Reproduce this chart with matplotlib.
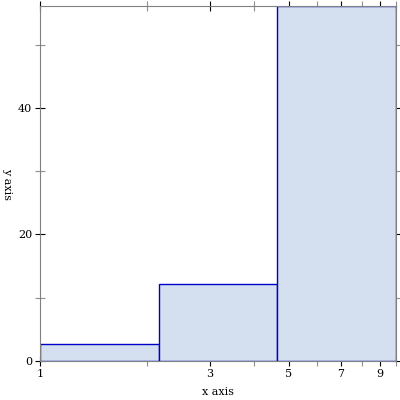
import numpy as np
import matplotlib
matplotlib.use('Agg')
import matplotlib.pyplot as plt
from matplotlib.ticker import FixedLocator, FixedFormatter, NullFormatter

# histogram data (log-spaced bins)
bin_edges = [1.0, 10 ** (1 / 3), 10 ** (2 / 3), 10.0]
counts = [2.63, 12.1, 56.1]
x_major = [1, 3, 5, 7, 9]
x_minor = [2, 4, 6, 8, 10]
y_major = [0, 20, 40]
y_minor = [10, 30, 50]

plt.rc('font', family='DejaVu Serif', size=8)
fig = plt.figure(figsize=(4, 4), dpi=100)
ax = fig.add_axes([0.1, 0.0975, 0.89, 0.8875])

left = np.array(bin_edges[:-1])
widths = np.diff(bin_edges)
ax.bar(left, counts, width=widths, align='edge', color='#d4dff0',
       edgecolor='#0000c8', linewidth=1.0, zorder=2)

ax.set_xscale('log')
ax.set_xlim(1, 10)
ax.set_ylim(0, max(counts))

ax.xaxis.set_major_locator(FixedLocator(x_major))
ax.xaxis.set_major_formatter(FixedFormatter([str(v) for v in x_major]))
ax.xaxis.set_minor_locator(FixedLocator(x_minor))
ax.xaxis.set_minor_formatter(NullFormatter())
ax.yaxis.set_major_locator(FixedLocator(y_major))
ax.yaxis.set_minor_locator(FixedLocator(y_minor))

for s in ax.spines.values():
    s.set_color('#808080')
    s.set_linewidth(0.8)
    s.set_zorder(3)

ax.tick_params(which='both', direction='inout', top=True, right=True,
               labeltop=False, labelright=False)
ax.tick_params(which='major', length=7, width=0.8, color='black', pad=2)
ax.tick_params(which='minor', length=7, width=0.8, color='#909090')

ax.set_xlabel('x axis', labelpad=6)
ax.set_ylabel('y axis', rotation=-90, va='center', ha='center')
ax.yaxis.set_label_coords(-0.092, 0.5)

fig.savefig('out.png', dpi=100)
plt.close()
